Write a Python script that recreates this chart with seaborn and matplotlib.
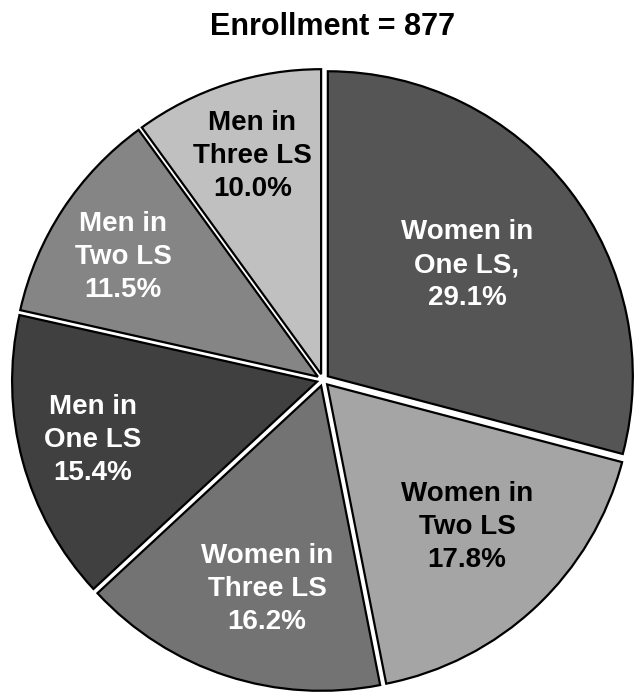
import numpy as np
import matplotlib
matplotlib.use("Agg")
import matplotlib.pyplot as plt
import seaborn as sns

# Data
groups = ["Women in\nOne LS,", "Women in\nTwo LS", "Women in\nThree LS",
          "Men in\nOne LS", "Men in\nTwo LS", "Men in\nThree LS"]
shares = [29.1, 17.8, 16.2, 15.4, 11.5, 10.0]
enrollment = 877

colors = ["#555555", "#a5a5a5", "#737373", "#404040", "#858585", "#c0c0c0"]
text_colors = ["white", "black", "white", "white", "white", "black"]
# label placement: radius and angle tweak (deg) from the wedge bisector
label_r = [0.604, 0.675, 0.71, 0.78, 0.77, 0.77]
label_dang = [1.0, 1.2, 3.0, -0.5, 1.7, -0.5]

sns.set_style("white")
plt.rcParams['font.family'] = ['Liberation Sans', 'DejaVu Sans']

fig = plt.figure(figsize=(6.34, 7.0), dpi=100)
ax = fig.add_axes([0, 0, 1, 1])

wedges, _ = ax.pie(shares, colors=colors, startangle=90, counterclock=False,
                   explode=[0.02] * len(shares), radius=1.0,
                   wedgeprops=dict(edgecolor="black", linewidth=1.6))

R = 305.0  # pie radius in pixels
cx, cy = 323.0, 380.0
ax.set_xlim(-cx / R, (634 - cx) / R)
ax.set_ylim((cy - 700) / R, cy / R)
ax.set_aspect("equal")
ax.axis("off")

for w, g, s, tc, r, da in zip(wedges, groups, shares, text_colors, label_r, label_dang):
    ang = np.deg2rad((w.theta1 + w.theta2) / 2 + da)
    ax.text(r * np.cos(ang), r * np.sin(ang), f"{g}\n{s:.1f}%",
            ha="center", va="center", fontsize=20, fontweight="bold",
            color=tc, linespacing=1.35)

ax.text((333 - cx) / R, (cy - 27) / R, f"Enrollment = {enrollment}",
        ha="center", va="center", fontsize=22, fontweight="bold", color="black")

fig.savefig("out.png", dpi=100)
